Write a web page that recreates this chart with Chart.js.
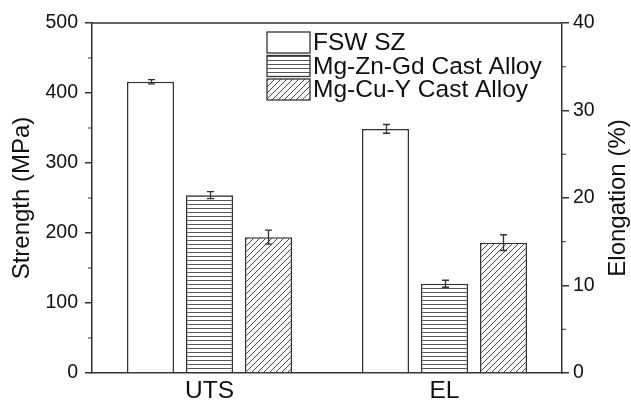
<!DOCTYPE html>
<html lang="en">
<head>
    <meta charset="utf-8">
    <title>Strength and elongation</title>
    <script src="https://cdn.jsdelivr.net/npm/chart.js@4.4.1/dist/chart.umd.min.js"></script>
    <style>
        body {
            margin: 0;
            background: #ffffff;
        }

        #wrap {
            width: 631px;
            height: 402px;
        }
    </style>
</head>
<body>
    <div id="wrap">
        <canvas id="chart" width="631" height="402"></canvas>
    </div>
    <script>
        const categories = ["UTS", "EL"];
        const seriesNames = ["FSW SZ", "Mg-Zn-Gd Cast Alloy", "Mg-Cu-Y Cast Alloy"];
        const utsValues = [416, 254, 194];      // MPa, left axis
        const utsErrors = [3, 5, 10];
        const elValues = [27.9, 10.2, 14.9];    // %, right axis
        const elErrors = [0.5, 0.4, 0.9];
        const strengthTicks = [0, 100, 200, 300, 400, 500];
        const elongationTicks = [0, 10, 20, 30, 40];
        const leftTitle = "Strength (MPa)";
        const rightTitle = "Elongation (%)";

        const FONT = "'Liberation Sans', Arial, sans-serif";
        const INK = "#333333";

        // fill patterns for the bars
        function makePattern(kind) {
            const c = document.createElement("canvas");
            const ctx = c.getContext("2d");
            if (kind === "hline") {
                c.width = 8;
                c.height = 4;
                ctx.fillStyle = "#ffffff";
                ctx.fillRect(0, 0, 8, 4);
                ctx.fillStyle = "#555555";
                ctx.fillRect(0, 0, 8, 1);
            } else if (kind === "diag") {
                c.width = 6;
                c.height = 6;
                ctx.fillStyle = "#ffffff";
                ctx.fillRect(0, 0, 6, 6);
                ctx.strokeStyle = "#444444";
                ctx.lineWidth = 1;
                ctx.beginPath();
                ctx.moveTo(-1, 7); ctx.lineTo(7, -1);
                ctx.moveTo(-4, 4); ctx.lineTo(4, -4);
                ctx.moveTo(2, 10); ctx.lineTo(10, 2);
                ctx.stroke();
            } else {
                return "#ffffff";
            }
            return ctx.createPattern(c, "repeat");
        }

        const fills = [makePattern("plain"), makePattern("hline"), makePattern("diag")];

        const datasets = [];
        seriesNames.forEach((name, i) => {
            datasets.push({
                label: name,
                data: [utsValues[i], null],
                errors: [utsErrors[i], null],
                yAxisID: "y",
                backgroundColor: fills[i],
                borderColor: INK,
                borderWidth: 1.5,
                legendEntry: true
            });
        });
        seriesNames.forEach((name, i) => {
            datasets.push({
                label: name,
                data: [null, elValues[i]],
                errors: [null, elErrors[i]],
                yAxisID: "y1",
                backgroundColor: fills[i],
                borderColor: INK,
                borderWidth: 1.5,
                legendEntry: false
            });
        });

        const errorBars = {
            id: "errorBars",
            afterDatasetsDraw(chart) {
                const ctx = chart.ctx;
                ctx.save();
                ctx.strokeStyle = INK;
                ctx.lineWidth = 1.3;
                chart.data.datasets.forEach((ds, i) => {
                    const meta = chart.getDatasetMeta(i);
                    const scale = chart.scales[ds.yAxisID];
                    meta.data.forEach((bar, j) => {
                        const v = ds.data[j];
                        if (v == null) return;
                        const e = ds.errors[j];
                        const yTop = scale.getPixelForValue(v + e);
                        const yBot = scale.getPixelForValue(v - e);
                        const x = Math.round(bar.x) + 0.5;
                        ctx.beginPath();
                        ctx.moveTo(x, yTop);
                        ctx.lineTo(x, yBot);
                        ctx.moveTo(x - 3.5, yTop);
                        ctx.lineTo(x + 3.5, yTop);
                        ctx.moveTo(x - 3.5, yBot);
                        ctx.lineTo(x + 3.5, yBot);
                        ctx.stroke();
                    });
                });
                ctx.restore();
            }
        };

        // top frame line, minor ticks, axis titles and the legend
        const frameAndLegend = {
            id: "frameAndLegend",
            afterDraw(chart) {
                const ctx = chart.ctx;
                const area = chart.chartArea;
                ctx.save();
                ctx.strokeStyle = INK;
                ctx.lineWidth = 1.5;
                ctx.beginPath();
                ctx.moveTo(area.left, area.top);
                ctx.lineTo(area.right, area.top);
                ctx.stroke();

                const ys = chart.scales.y;
                const yr = chart.scales.y1;
                ctx.lineWidth = 1.2;
                ctx.beginPath();
                for (let k = 0; k < strengthTicks.length - 1; k++) {
                    const p = ys.getPixelForValue((strengthTicks[k] + strengthTicks[k + 1]) / 2);
                    ctx.moveTo(area.left - 4, p);
                    ctx.lineTo(area.left, p);
                }
                for (let k = 0; k < elongationTicks.length - 1; k++) {
                    const p = yr.getPixelForValue((elongationTicks[k] + elongationTicks[k + 1]) / 2);
                    ctx.moveTo(area.right, p);
                    ctx.lineTo(area.right + 4, p);
                }
                ctx.stroke();

                // axis titles, both reading bottom to top
                const midY = (area.top + area.bottom) / 2;
                ctx.font = "24px " + FONT;
                ctx.fillStyle = "#111111";
                ctx.textAlign = "center";
                ctx.textBaseline = "middle";
                [[area.left - 70, leftTitle], [area.right + 56, rightTitle]].forEach(([x, t]) => {
                    ctx.save();
                    ctx.translate(x, midY);
                    ctx.rotate(-Math.PI / 2);
                    ctx.fillText(t, 0, 0);
                    ctx.restore();
                });

                // legend
                const bx = area.left + 175;
                const rowTop = area.top + 9;
                const rowStep = 23.5;
                const bw = 43, bh = 21;
                ctx.font = "24.5px " + FONT;
                ctx.textAlign = "left";
                ctx.textBaseline = "middle";
                chart.data.datasets.filter(d => d.legendEntry).forEach((ds, i) => {
                    const y = rowTop + i * rowStep;
                    ctx.fillStyle = ds.backgroundColor;
                    ctx.fillRect(bx, y, bw, bh);
                    ctx.lineWidth = 1.3;
                    ctx.strokeStyle = INK;
                    ctx.strokeRect(bx, y, bw, bh);
                    ctx.fillStyle = "#111111";
                    ctx.fillText(ds.label, bx + bw + 3, y + bh / 2 + 1);
                });
                ctx.restore();
            }
        };

        new Chart(document.getElementById("chart"), {
            type: "bar",
            data: {
                labels: categories,
                datasets: datasets
            },
            options: {
                responsive: false,
                animation: false,
                skipNull: true,
                categoryPercentage: 0.753,
                barPercentage: 0.797,
                layout: { padding: { top: 23, right: 0, left: 0, bottom: 0 } },
                plugins: {
                    legend: { display: false },
                    tooltip: { enabled: false }
                },
                scales: {
                    x: {
                        grid: { display: false },
                        border: { display: true, color: INK, width: 1.5 },
                        ticks: {
                            color: "#111111",
                            font: { family: FONT, size: 24.5 },
                            padding: -4
                        },
                        afterFit: s => { s.height = 29; }
                    },
                    y: {
                        position: "left",
                        min: 0,
                        max: 500,
                        afterBuildTicks: s => { s.ticks = strengthTicks.map(v => ({ value: v })); },
                        grid: { drawOnChartArea: false, tickLength: 7, color: INK, lineWidth: 1.5 },
                        border: { display: true, color: INK, width: 1.5 },
                        ticks: {
                            color: "#111111",
                            font: { family: FONT, size: 19.5 },
                            padding: 7
                        },
                        afterFit: s => { s.width = 92; }
                    },
                    y1: {
                        position: "right",
                        min: 0,
                        max: 40,
                        afterBuildTicks: s => { s.ticks = elongationTicks.map(v => ({ value: v })); },
                        grid: { drawOnChartArea: false, tickLength: 7, color: INK, lineWidth: 1.5 },
                        border: { display: true, color: INK, width: 1.5 },
                        ticks: {
                            color: "#111111",
                            font: { family: FONT, size: 19.5 },
                            padding: 4
                        },
                        afterFit: s => { s.width = 69; }
                    }
                }
            },
            plugins: [errorBars, frameAndLegend]
        });
    </script>
</body>
</html>
